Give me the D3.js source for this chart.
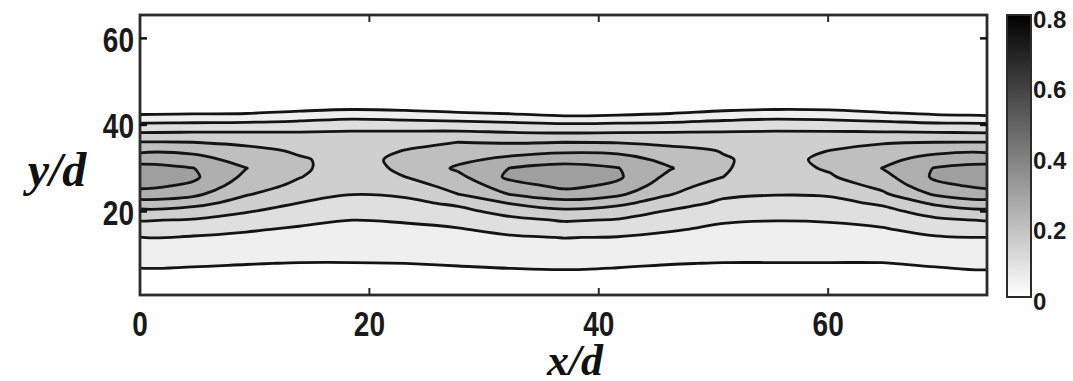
<!DOCTYPE html>
<html>
<head>
<meta charset="utf-8">
<script src="https://cdn.jsdelivr.net/npm/d3@7"></script>
<style>
  html, body { margin: 0; padding: 0; background: #fff; }
  svg { display: block; }
</style>
</head>
<body>
<svg id="chart" width="1073" height="381"></svg>
<script>
// ---------------- data ----------------
// streamwise stations x/d (grid columns)
const xStations = [0, 4.625, 9.25, 13.875, 18.5, 23.125, 27.75, 32.375, 37,
                   41.625, 46.25, 50.875, 55.5, 60.125, 64.75, 69.375, 74];
// cross-stream stations y/d (grid rows)
const yStations = [0, 2, 4, 6, 8, 10, 12, 14, 16, 18, 20, 22, 24, 26, 28, 30,
                   32, 34, 36, 38, 40, 42, 44, 46];
// one cross-stream profile (values at yStations) per x station
const profile00 = [0.020,0.028,0.037,0.045,0.056,0.070,0.085,0.099,0.126,0.153,0.187,0.232,0.278,0.313,0.340,0.315,0.283,0.240,0.202,0.155,0.111,0.058,0.019,0];
const profile05 = [0.020,0.028,0.036,0.044,0.054,0.068,0.082,0.096,0.120,0.146,0.178,0.218,0.262,0.292,0.309,0.301,0.271,0.237,0.200,0.157,0.113,0.061,0.020,0];
const profile09 = [0.022,0.029,0.036,0.043,0.051,0.064,0.077,0.090,0.106,0.129,0.153,0.180,0.204,0.222,0.239,0.251,0.230,0.213,0.191,0.157,0.115,0.064,0.020,0];
const profile14 = [0.024,0.030,0.036,0.043,0.049,0.060,0.072,0.084,0.095,0.112,0.131,0.150,0.170,0.190,0.202,0.206,0.204,0.195,0.175,0.156,0.121,0.075,0.033,0];
const profile18 = [0.025,0.031,0.037,0.043,0.049,0.059,0.069,0.079,0.090,0.100,0.117,0.134,0.151,0.161,0.172,0.182,0.187,0.177,0.166,0.158,0.129,0.086,0.040,0];
const profile23 = [0.024,0.030,0.036,0.043,0.050,0.060,0.071,0.082,0.092,0.104,0.122,0.139,0.157,0.179,0.200,0.208,0.209,0.202,0.185,0.160,0.125,0.080,0.036,0];
const profile28 = [0.022,0.029,0.036,0.043,0.053,0.064,0.076,0.087,0.098,0.116,0.136,0.160,0.200,0.219,0.238,0.258,0.238,0.219,0.200,0.162,0.121,0.072,0.023,0];
const profile32 = [0.020,0.028,0.036,0.045,0.057,0.070,0.082,0.095,0.114,0.138,0.168,0.205,0.253,0.280,0.313,0.302,0.264,0.230,0.196,0.156,0.115,0.062,0.020,0];
const profile37 = [0.020,0.029,0.038,0.047,0.058,0.072,0.087,0.101,0.128,0.154,0.188,0.233,0.279,0.314,0.340,0.316,0.284,0.240,0.200,0.153,0.108,0.052,0.015,0];
const profile42 = [0.020,0.028,0.036,0.045,0.055,0.069,0.083,0.098,0.123,0.147,0.175,0.214,0.260,0.290,0.308,0.302,0.272,0.238,0.197,0.155,0.111,0.055,0.018,0];
const profile46 = [0.022,0.029,0.036,0.043,0.051,0.065,0.078,0.090,0.105,0.125,0.145,0.173,0.202,0.219,0.236,0.253,0.236,0.214,0.189,0.156,0.115,0.064,0.020,0];
const profile51 = [0.024,0.030,0.036,0.043,0.049,0.060,0.070,0.081,0.092,0.105,0.123,0.141,0.160,0.180,0.200,0.203,0.203,0.198,0.177,0.157,0.123,0.078,0.034,0];
const profile55 = [0.025,0.031,0.037,0.043,0.049,0.059,0.069,0.079,0.090,0.101,0.118,0.135,0.152,0.162,0.173,0.183,0.188,0.178,0.167,0.158,0.129,0.086,0.040,0];
const profile60 = [0.025,0.031,0.037,0.043,0.049,0.059,0.069,0.080,0.091,0.103,0.120,0.137,0.155,0.175,0.195,0.205,0.208,0.201,0.183,0.159,0.125,0.082,0.038,0];
const profile65 = [0.024,0.030,0.036,0.043,0.049,0.061,0.073,0.085,0.097,0.115,0.135,0.158,0.192,0.214,0.233,0.251,0.236,0.217,0.196,0.158,0.119,0.072,0.023,0];
const profile69 = [0.020,0.028,0.036,0.044,0.054,0.068,0.082,0.096,0.118,0.141,0.171,0.211,0.257,0.288,0.309,0.303,0.271,0.237,0.200,0.156,0.112,0.058,0.018,0];
const profile74 = [0.020,0.029,0.038,0.047,0.058,0.072,0.087,0.100,0.127,0.153,0.187,0.232,0.278,0.313,0.338,0.315,0.283,0.240,0.201,0.154,0.109,0.053,0.016,0];
const profiles = [profile00, profile05, profile09, profile14, profile18, profile23,
                  profile28, profile32, profile37, profile42, profile46, profile51,
                  profile55, profile60, profile65, profile69, profile74];
// contour levels and colour-bar range
const levels = [0.05, 0.10, 0.15, 0.20, 0.25, 0.30];
const colorRange = [0, 0.8];
// tick labels
const xTicks = [0, 20, 40, 60];
const yTicks = [20, 40, 60];
const cbTicks = [0, 0.2, 0.4, 0.6, 0.8];
const xLabel = "x/d";
const yLabel = "y/d";

// ---------------- layout ----------------
const svg = d3.select("#chart");
const plot = { left: 140, right: 987, top: 15, bottom: 295 };
const x = d3.scaleLinear().domain([0, 73.85]).range([plot.left, plot.right]);
const y = d3.scaleLinear().domain([0.7, 65.4]).range([plot.bottom, plot.top]);
const gray = d3.scaleLinear().domain(colorRange).range(["#ffffff", "#000000"]);

const nx = xStations.length, ny = yStations.length;
const values = new Array(nx * ny);
for (let j = 0; j < ny; j++)
  for (let i = 0; i < nx; i++)
    values[j * nx + i] = profiles[i][j];

const ix = d3.scaleLinear().domain([0, nx - 1]).range([xStations[0], xStations[nx - 1]]);
const iy = d3.scaleLinear().domain([0, ny - 1]).range([yStations[0], yStations[ny - 1]]);

const contours = d3.contours().size([nx, ny]).thresholds(levels)(values);

// smooth each ring of the library's contour polygons
const ringLine = d3.line().curve(d3.curveCatmullRomClosed.alpha(0.5));
function contourPath(mp) {
  let d = "";
  mp.coordinates.forEach(poly => poly.forEach(ring => {
    const pts = ring.slice(0, ring.length - 1).map(p => [x(ix(p[0] - 0.5)), y(iy(p[1] - 0.5))]);
    d += ringLine(pts);
  }));
  return d;
}

svg.append("rect").attr("width", 1073).attr("height", 381).attr("fill", "#fff");

const defs = svg.append("defs");
defs.append("clipPath").attr("id", "clip")
  .append("rect")
  .attr("x", plot.left).attr("y", plot.top)
  .attr("width", plot.right - plot.left).attr("height", plot.bottom - plot.top);

const g = svg.append("g").attr("clip-path", "url(#clip)");
g.selectAll("path.c").data(contours).join("path")
  .attr("class", "c")
  .attr("d", contourPath)
  .attr("fill", d => gray(d.value))
  .attr("fill-rule", "evenodd")
  .attr("stroke", "#141414")
  .attr("stroke-width", 2.8)
  .attr("stroke-linejoin", "round");

// frame
svg.append("rect")
  .attr("x", plot.left).attr("y", plot.top)
  .attr("width", plot.right - plot.left).attr("height", plot.bottom - plot.top)
  .attr("fill", "none").attr("stroke", "#2b2b2b").attr("stroke-width", 2.8);

// ticks (inward, all sides)
const tl = 7;
xTicks.filter(t => t > 0).forEach(t => {
  svg.append("line").attr("x1", x(t)).attr("x2", x(t)).attr("y1", plot.bottom).attr("y2", plot.bottom - tl)
    .attr("stroke", "#2b2b2b").attr("stroke-width", 2);
  svg.append("line").attr("x1", x(t)).attr("x2", x(t)).attr("y1", plot.top).attr("y2", plot.top + tl)
    .attr("stroke", "#2b2b2b").attr("stroke-width", 2);
});
yTicks.forEach(t => {
  svg.append("line").attr("x1", plot.left).attr("x2", plot.left + tl).attr("y1", y(t)).attr("y2", y(t))
    .attr("stroke", "#111").attr("stroke-width", 2.5);
  svg.append("line").attr("x1", plot.right).attr("x2", plot.right - tl).attr("y1", y(t)).attr("y2", y(t))
    .attr("stroke", "#111").attr("stroke-width", 2.5);
});

// tick labels
const numFont = "'Liberation Sans', Arial, sans-serif";
xTicks.forEach(t => {
  svg.append("text")
    .attr("transform", `translate(${x(t)},${324}) scale(0.8,1)`)
    .attr("text-anchor", "middle").attr("dominant-baseline", "central")
    .attr("font-family", numFont).attr("font-size", 35).attr("font-weight", 700)
    .attr("fill", "#1a1a1a").text(t);
});
yTicks.forEach(t => {
  svg.append("text")
    .attr("transform", `translate(${134},${y(t) + 1}) scale(0.8,1)`)
    .attr("text-anchor", "end").attr("dominant-baseline", "central")
    .attr("font-family", numFont).attr("font-size", 35).attr("font-weight", 700)
    .attr("fill", "#1a1a1a").text(t);
});

// axis titles
svg.append("text").attr("x", 575).attr("y", 375).attr("text-anchor", "middle")
  .attr("font-family", "'Liberation Serif', 'Times New Roman', serif")
  .attr("font-style", "italic").attr("font-weight", 700).attr("font-size", 44)
  .attr("fill", "#111").text(xLabel);
svg.append("text").attr("x", 57).attr("y", 186).attr("text-anchor", "middle")
  .attr("font-family", "'Liberation Serif', 'Times New Roman', serif")
  .attr("font-style", "italic").attr("font-weight", 700).attr("font-size", 48)
  .attr("fill", "#111").text(yLabel);

// colour bar
const cb = { x: 1007, w: 24, top: 15, bottom: 297 };
const cbScale = d3.scaleLinear().domain(colorRange).range([cb.bottom, cb.top]);
const grad = defs.append("linearGradient").attr("id", "cbgrad")
  .attr("x1", 0).attr("y1", 1).attr("x2", 0).attr("y2", 0);
grad.append("stop").attr("offset", "0%").attr("stop-color", gray(colorRange[0]));
grad.append("stop").attr("offset", "100%").attr("stop-color", gray(colorRange[1]));
svg.append("rect").attr("x", cb.x).attr("y", cb.top).attr("width", cb.w)
  .attr("height", cb.bottom - cb.top).attr("fill", "url(#cbgrad)")
  .attr("stroke", "#2b2b2b").attr("stroke-width", 2);
cbTicks.forEach(t => {
  svg.append("text")
    .attr("x", cb.x + cb.w + 2).attr("y", cbScale(t) + 4)
    .attr("dominant-baseline", "central")
    .attr("font-family", numFont).attr("font-size", 24).attr("font-weight", 700)
    .attr("fill", "#1a1a1a").text(t);
});
</script>
</body>
</html>
